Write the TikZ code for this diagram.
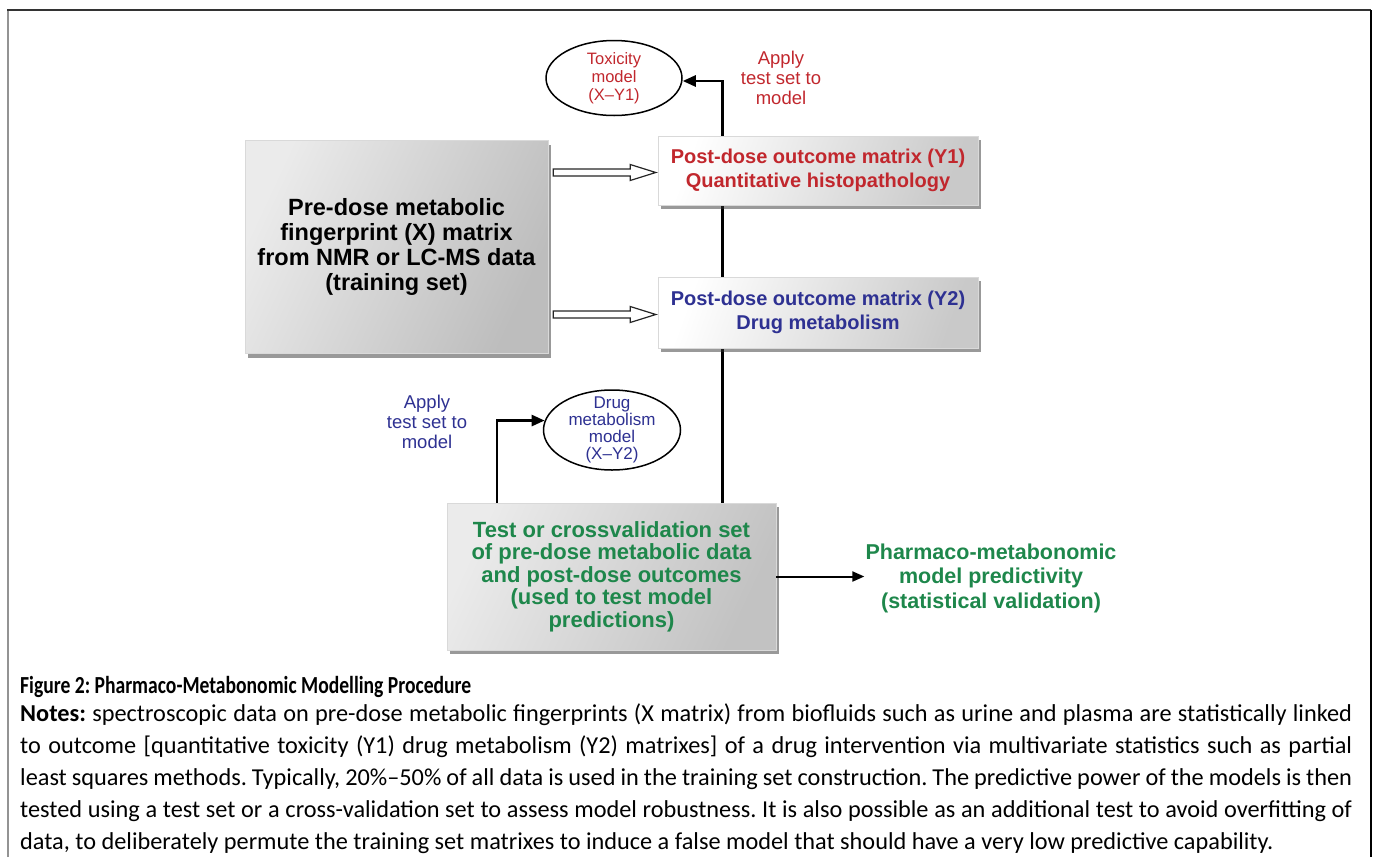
\documentclass[tikz,border=0pt]{standalone}
\usepackage{fontspec}
\usepackage{graphicx}
\newfontfamily\arialf{Liberation Sans}
\newfontfamily\calf{Carlito}
\usetikzlibrary{arrows.meta,shapes.geometric,shadows,calc}
\definecolor{cred}{RGB}{193,39,45}
\definecolor{cblue}{RGB}{46,49,146}
\definecolor{cgreen}{RGB}{30,135,75}
\pgfdeclarelayer{bg}
\pgfsetlayers{bg,main}
\frenchspacing
\begin{document}
\begin{tikzpicture}[x=1pt,y=1pt,
  boxbase/.style={rectangle, inner sep=0pt, align=center, draw=gray!30, line width=0.4pt,
    drop shadow={shadow xshift=3pt,shadow yshift=-4pt,opacity=.5,fill=black!80}},
  bigbox/.style={boxbase, left color=gray!16, middle color=gray!4, right color=gray!52, shading angle=65},
  ybox/.style={boxbase, left color=white, right color=gray!42, shading angle=70},
  testbox/.style={boxbase, left color=gray!16, middle color=gray!6, right color=gray!48, shading angle=65},
  ell/.style={ellipse, draw=black, line width=1.5pt, fill=white, inner sep=0pt},
  etext/.style={inner sep=0pt, align=center},
  arr/.style={line width=2.6pt, -{Triangle[length=13pt,width=11pt]}},
  arrthin/.style={line width=2pt, -{Triangle[length=12pt,width=10pt]}},
  hollow/.style={draw=black!85, line width=1.2pt, fill=white, line join=miter}
]
\useasboundingbox (0,0) rectangle (1379,-857);
% frame
\draw[line width=2pt, gray!85] (8,-857) -- (8,-10);
\draw[line width=1.6pt, black!80] (7,-10) -- (1371,-10);
\draw[line width=1.6pt, black] (1371,-10) -- (1371,-857);

% boxes
\node[bigbox, minimum width=303pt, minimum height=213pt,
  font=\arialf\bfseries\fontsize{23.5}{25}\selectfont] (big) at (396.5,-247)
  {Pre-dose metabolic\\fingerprint (X) matrix\\from NMR or LC-MS data\\(training set)};
\node[ybox, minimum width=320pt, minimum height=69pt, text=cred,
  font=\arialf\bfseries\fontsize{20}{23.5}\selectfont] (y1) at (818,-170.5)
  {Post-dose outcome matrix (Y1)\\Quantitative histopathology};
\node[ybox, minimum width=320pt, minimum height=71pt, text=cblue,
  font=\arialf\bfseries\fontsize{20}{24}\selectfont] (y2) at (818,-312.5)
  {Post-dose outcome matrix (Y2)\\Drug metabolism};
\node[testbox, minimum width=329pt, minimum height=147pt, text=cgreen,
  font=\arialf\bfseries\fontsize{22}{22.5}\selectfont] (test) at (611.5,-576.5)
  {Test or crossvalidation set\\of pre-dose metabolic data\\and post-dose outcomes\\(used to test model\\predictions)};

% ellipses
\node[ell, minimum width=136pt, minimum height=75pt] (tox) at (614,-78) {};
\node[etext, text=cred, font=\arialf\fontsize{16.5}{18}\selectfont] (toxt) at (tox.center) {Toxicity\\model\\(X–Y1)};
\node[ell, minimum width=137pt, minimum height=80pt] (dm) at (612,-430) {};
\node[etext, text=cblue, font=\arialf\fontsize{17}{17}\selectfont] (dmt) at (dm.center) {Drug\\metabolism\\model\\(X–Y2)};

% labels
\node[etext, text=cred, font=\arialf\fontsize{18.5}{20}\selectfont] (ap1) at (781,-78) {Apply\\test set to\\model};
\node[etext, text=cblue, font=\arialf\fontsize{18.5}{20}\selectfont] (ap2) at (427,-422) {Apply\\test set to\\model};
\node[inner sep=1pt, align=center, text=cgreen, font=\arialf\bfseries\fontsize{21.5}{24.5}\selectfont] (pharm) at (991,-578)
  {Pharmaco-metabonomic\\model predictivity\\(statistical validation)};

% connectors
\begin{pgfonlayer}{bg}
\draw[arr] ([xshift=-54pt]test.north east) |- ([yshift=-3pt]tox.east);
\end{pgfonlayer}
\draw[arr] ([xshift=50pt]test.north west) |- (dm.172);
\draw[arrthin] (test.east) -- (test.east -| pharm.west);

\foreach \t in {y1,y2}{
  \coordinate (s) at ($(big.east |- \t.west)+(5,-2)$);
  \draw[hollow] ($(s)+(0,3.5)$) -- ++(77,0) -- ++(0,4.5) -- ($(\t.west |- s)+(-2,0)$)
     -- ($(s)+(77,-8)$) -- ++(0,4.5) -- ($(s)+(0,-3.5)$) -- cycle;
}

% caption and notes
\node[anchor=base west, inner sep=0pt] (cap) at (20,-693)
  {\scalebox{0.8}[1]{\calf\bfseries\fontsize{24.5}{28}\selectfont Figure 2: Pharmaco-Metabonomic Modelling Procedure}};
\node[anchor=north west, inner sep=0pt, text width=1332pt, align=justify,
  font=\calf\fontsize{24.3}{32}\selectfont] (notes) at (20,-704)
  {\textbf{Notes:} spectroscopic data on pre-dose metabolic fingerprints (X matrix) from biofluids such as urine and plasma are statistically linked\linebreak
  to outcome [quantitative toxicity (Y1) drug metabolism (Y2) matrixes] of a drug intervention via multivariate statistics such as partial\linebreak
  least squares methods. Typically, 20\%–50\% of all data is used in the training set construction. The predictive power of the models is then\linebreak
  tested using a test set or a cross-validation set to assess model robustness. It is also possible as an additional test to avoid overfitting of\linebreak
  data, to deliberately permute the training set matrixes to induce a false model that should have a very low predictive capability.};
\end{tikzpicture}
\end{document}
